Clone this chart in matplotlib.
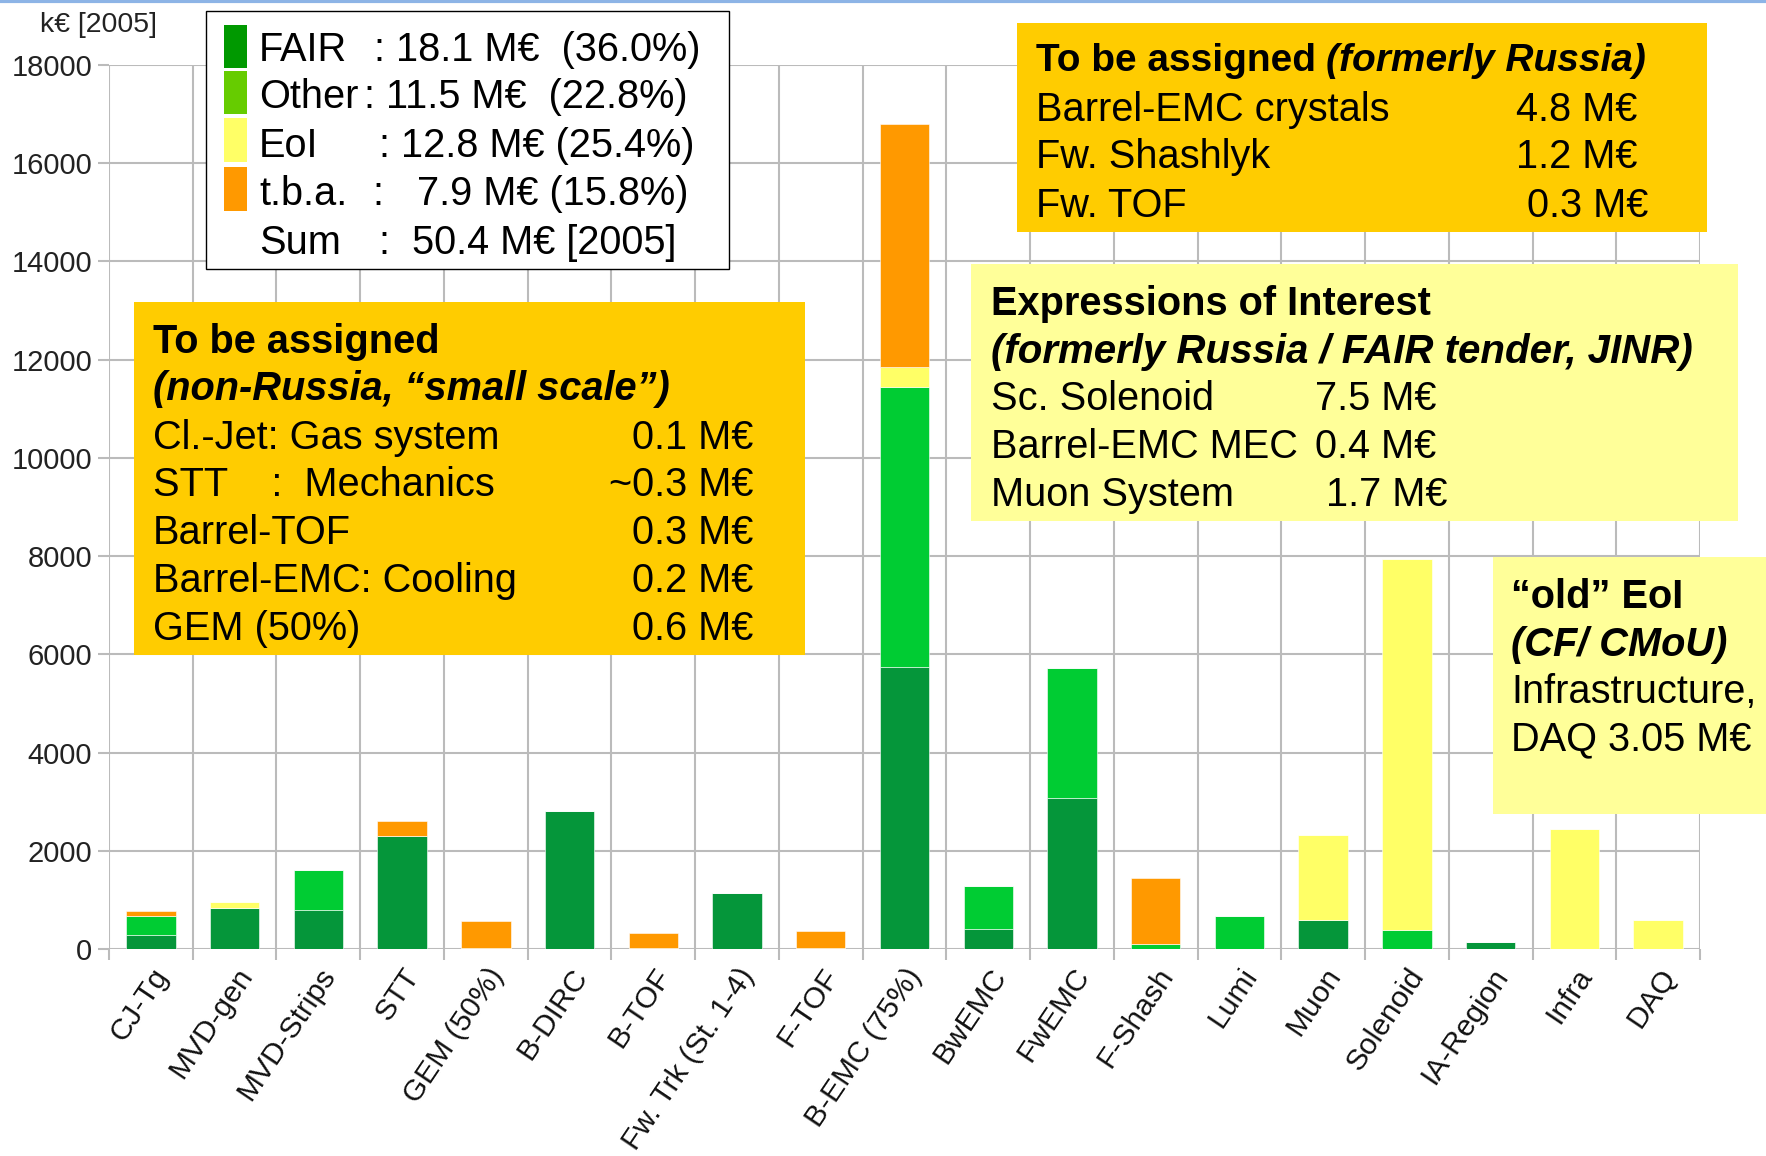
import matplotlib
matplotlib.use("Agg")
import matplotlib.pyplot as plt
import matplotlib.transforms as mtransforms
from matplotlib.patches import Rectangle
from matplotlib.lines import Line2D
import numpy as np

# cost per sub-detector in k€ [2005], stacked FAIR / Other / EoI / t.b.a.
categories = ["CJ-Tg", "MVD-gen", "MVD-Strips", "STT", "GEM (50%)", "B-DIRC", "B-TOF",
              "Fw. Trk (St. 1-4)", "F-TOF", "B-EMC (75%)", "BwEMC", "FwEMC", "F-Shash",
              "Lumi", "Muon", "Solenoid", "IA-Region", "Infra", "DAQ"]
fair = [280, 830, 800, 2300, 0, 2800, 0, 1150, 0, 5750, 400, 3070, 0, 0, 590, 0, 150, 0, 0]
other = [400, 0, 800, 0, 0, 0, 0, 0, 0, 5700, 880, 2660, 100, 670, 0, 390, 0, 0, 0]
eoi = [0, 120, 0, 0, 20, 0, 20, 0, 20, 400, 0, 0, 0, 0, 1730, 7550, 0, 2450, 600]
tba = [100, 0, 0, 300, 540, 0, 300, 0, 350, 4950, 0, 0, 1350, 0, 0, 0, 0, 0, 0]

legend_names = ["FAIR", "Other", "EoI", "t.b.a.", "Sum"]
legend_values = [": 18.1 M€  (36.0%)", ": 11.5 M€  (22.8%)", ": 12.8 M€ (25.4%)",
                 ":   7.9 M€ (15.8%)", ":  50.4 M€ [2005]"]

small_scale = [("Cl.-Jet: Gas system", "0.1 M€"), ("STT    :  Mechanics", "~0.3 M€"),
               ("Barrel-TOF", "0.3 M€"), ("Barrel-EMC: Cooling", "0.2 M€"),
               ("GEM (50%)", "0.6 M€")]
russia = [("Barrel-EMC crystals", "4.8 M€"), ("Fw. Shashlyk", "1.2 M€"), ("Fw. TOF", " 0.3 M€")]
eoi_lines = [("Sc. Solenoid", "7.5 M€"), ("Barrel-EMC MEC", "0.4 M€"), ("Muon System", " 1.7 M€")]

bar_colors = ["#05963A", "#00CC33", "#FFFF66", "#FF9900"]
legend_colors = ["#009900", "#66CC00", "#FFFF66", "#FF9900"]
FONT = ["Liberation Sans", "DejaVu Sans"]

W, H = 1766, 1156
fig = plt.figure(figsize=(W / 100, H / 100), dpi=100)


def fx(x):
    return x / W


def fy(y):
    return 1 - y / H


def box(x0, y0, x1, y1, color, edge="none"):
    fig.add_artist(Rectangle((fx(x0), fy(y1)), (x1 - x0) / W, (y1 - y0) / H,
                             transform=fig.transFigure, facecolor=color,
                             edgecolor=edge, lw=1, zorder=5))


def label(x, y, s, size=28.6, **kw):
    fig.text(fx(x), fy(y), s, va="center_baseline", fontsize=size, family=FONT,
             zorder=6, **kw)


ax = fig.add_axes([fx(109), fy(949), fx(1700) - fx(109), fy(65) - fy(949)])
x = np.arange(len(categories))
bottom = np.zeros(len(categories))
for vals, col in zip([fair, other, eoi, tba], bar_colors):
    ax.bar(x, vals, 0.59, bottom=bottom, color=col, edgecolor="white", linewidth=0.4,
           zorder=3)
    bottom += np.array(vals)

ax.set_xlim(-0.5, len(categories) - 0.5)
ax.set_ylim(0, 18000)
ax.set_yticks(range(0, 18001, 2000))
ax.set_xticks(x)
ax.set_xticks(np.arange(-0.5, len(categories), 1), minor=True)
ax.set_xticklabels(categories, rotation=56, ha="right", va="top", rotation_mode="anchor",
                   fontsize=21.5, family=FONT, color="#111111")
shift = mtransforms.ScaledTranslation(0.05, 0, fig.dpi_scale_trans)
for lab in ax.get_xticklabels():
    lab.set_transform(lab.get_transform() + shift)
ax.tick_params(axis="x", which="major", length=0, pad=10)
ax.tick_params(axis="x", which="minor", length=8, color="#BBBBBB", width=1.5)
ax.tick_params(axis="y", length=8, color="#BBBBBB", width=1.5, labelsize=21, pad=4)
for t in ax.get_yticklabels():
    t.set_family(FONT)
    t.set_color("#222222")
ax.grid(True, which="minor", axis="x", color="#BBBBBB", lw=1.5, zorder=0)
ax.grid(True, which="major", axis="y", color="#BBBBBB", lw=1.5, zorder=0)
for s in ax.spines.values():
    s.set_visible(False)

label(99, 22, "k€ [2005]", size=20.5, ha="center", color="#222222")
fig.add_artist(Line2D([0, 1], [fy(1), fy(1)], color="#8DB4E6", lw=3,
                      transform=fig.transFigure))

# legend
box(206, 11, 729, 269, "white", edge="black")
rows = [46, 93, 142, 190, 239]
colon_x = [374, 364, 379, 373, 379]
patch_rows = [(25, 68), (71, 114), (118, 162), (167, 211)]
for (y0, y1), col in zip(patch_rows, legend_colors):
    box(224, y0, 247, y1, col)
for y, name, cx, val in zip(rows, legend_names, colon_x, legend_values):
    label(259, y, name)
    label(cx, y, val)

# to be assigned, small scale
box(134, 302, 805, 655, "#FFCC00")
label(153, 338, "To be assigned", weight="bold")
label(153, 385, "(non-Russia, “small scale”)", weight="bold", style="italic")
for y, (name, val) in zip([434, 481, 529, 577, 625], small_scale):
    label(153, y, name)
    label(753, y, val, ha="right")

# to be assigned, formerly Russia
box(1017, 23, 1707, 232, "#FFCC00")
label(1036, 57, "To be assigned", size=28, weight="bold")
label(1326, 57, "(formerly Russia)", size=28, weight="bold", style="italic")
for y, (name, val) in zip([106, 153, 202], russia):
    label(1036, y, name)
    label(1516, y, val)

# expressions of interest
box(971, 264, 1738, 521, "#FFFF99")
label(991, 300, "Expressions of Interest", weight="bold")
label(991, 348, "(formerly Russia / FAIR tender, JINR)", size=29, weight="bold",
      style="italic")
for y, (name, val) in zip([395, 443, 491], eoi_lines):
    label(991, y, name)
    label(1315, y, val)

# old EoI
box(1493, 557, 1766, 814, "#FFFF99")
label(1511, 593, "“old” EoI", weight="bold")
label(1511, 641, "(CF/ CMoU)", weight="bold", style="italic")
label(1511, 688, "Infrastructure,")
label(1511, 735, "DAQ 3.05 M€")

fig.savefig("out.png", dpi=100)
